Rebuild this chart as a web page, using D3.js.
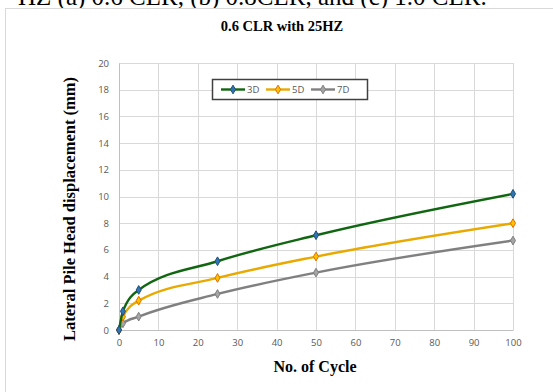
<!DOCTYPE html>
<html>
<head>
<meta charset="utf-8">
<script src="https://cdn.jsdelivr.net/npm/d3@7"></script>
<style>
  body { margin: 0; background: #fff; }
  svg { display: block; }
</style>
</head>
<body>
<script>
// values
const cycles = [0, 1, 5, 25, 50, 100];
const d3D = [0, 1.4, 3.0, 5.15, 7.1, 10.2];
const d5D = [0, 1.0, 2.2, 3.9, 5.5, 8.0];
const d7D = [0, 0.5, 1.0, 2.7, 4.3, 6.7];
const seriesNames = ["3D", "5D", "7D"];
const xTicks = [0, 10, 20, 30, 40, 50, 60, 70, 80, 90, 100];
const yTicks = [0, 2, 4, 6, 8, 10, 12, 14, 16, 18, 20];

const W = 553, H = 392;
const svg = d3.select("body").append("svg").attr("width", W).attr("height", H);

// caption of the page above the chart, cut off at the top like in the reference
svg.append("text")
  .attr("x", 18).attr("y", 5)
  .attr("font-family", "Liberation Serif, Times New Roman, serif")
  .attr("font-size", 25)
  .attr("fill", "#000")
  .text("HZ (a) 0.6 CLR, (b) 0.8CLR, and (c) 1.0 CLR.");

// chart frame
svg.append("rect")
  .attr("x", 5.5).attr("y", 8.5).attr("width", 560).attr("height", 400)
  .attr("fill", "#fff").attr("stroke", "#d9d9d9");

let x = d3.scaleLinear().domain([0, 100]).range([119, 513]);
let y = d3.scaleLinear().domain([0, 20]).range([330, 63]);

// grid
svg.selectAll(".vgrid").data(xTicks).enter().append("line")
  .attr("x1", d => Math.round(x(d)) + 0.5).attr("x2", d => Math.round(x(d)) + 0.5)
  .attr("y1", y(20)).attr("y2", y(0))
  .attr("stroke", "#d9d9d9").attr("stroke-width", 1);
svg.selectAll(".hgrid").data(yTicks).enter().append("line")
  .attr("x1", x(0)).attr("x2", x(100))
  .attr("y1", d => Math.round(y(d)) + 0.5).attr("y2", d => Math.round(y(d)) + 0.5)
  .attr("stroke", "#d9d9d9").attr("stroke-width", 1);

// axes
let xAxis = svg.append("g").attr("transform", "translate(0,330)")
  .call(d3.axisBottom(x).tickValues(xTicks).tickSize(0).tickPadding(9));
let yAxis = svg.append("g").attr("transform", "translate(119,0)")
  .call(d3.axisLeft(y).tickValues(yTicks).tickSize(0).tickPadding(10));
[xAxis, yAxis].forEach(g => {
  g.select(".domain").attr("stroke", "#bfbfbf");
  g.selectAll("text").attr("font-family", "Open Sans, Liberation Sans, sans-serif")
    .attr("font-size", 9.5).attr("fill", "#595959");
});

// series
const series = [
  { name: seriesNames[0], vals: d3D, color: "#116611", mark: "#1f4e79", mfill: "#2e75b6" },
  { name: seriesNames[1], vals: d5D, color: "#e8a900", mark: "#e07000", mfill: "#ffc000" },
  { name: seriesNames[2], vals: d7D, color: "#808080", mark: "#7f7f7f", mfill: "#a5a5a5" }
];

const line = d3.line()
  .x(d => x(d[0])).y(d => y(d[1]))
  .curve(d3.curveMonotoneX);
const diamond = d3.symbol().type(d3.symbolDiamond).size(22);

series.slice().reverse().forEach(s => {
  const pts = cycles.map((c, i) => [c, s.vals[i]]);
  svg.append("path").datum(pts)
    .attr("d", line).attr("fill", "none")
    .attr("stroke", s.color).attr("stroke-width", 2.4);
  svg.selectAll(null).data(pts).enter().append("path")
    .attr("d", diamond)
    .attr("transform", d => "translate(" + x(d[0]) + "," + y(d[1]) + ")")
    .attr("fill", s.mfill).attr("stroke", s.mark).attr("stroke-width", 1);
});

// legend
const lg = svg.append("g");
lg.append("rect").attr("x", 212.5).attr("y", 79.5).attr("width", 155).attr("height", 20)
  .attr("fill", "#fff").attr("stroke", "#404040").attr("stroke-width", 1.5);
const lx = [221, 266, 311];
series.forEach((s, i) => {
  lg.append("line").attr("x1", lx[i]).attr("x2", lx[i] + 24)
    .attr("y1", 89.5).attr("y2", 89.5)
    .attr("stroke", s.color).attr("stroke-width", 2.4);
  lg.append("path").attr("d", diamond)
    .attr("transform", "translate(" + (lx[i] + 12) + ",89.5)")
    .attr("fill", s.mfill).attr("stroke", s.mark);
  lg.append("text").attr("x", lx[i] + 26).attr("y", 93)
    .attr("font-family", "Open Sans, Liberation Sans, sans-serif")
    .attr("font-size", 9.5).attr("fill", "#595959").text(s.name);
});

// titles
svg.append("text").attr("x", 282).attr("y", 31).attr("text-anchor", "middle")
  .attr("font-family", "Liberation Serif, Times New Roman, serif")
  .attr("font-weight", "bold").attr("font-size", 14.5).text("0.6 CLR with 25HZ");
svg.append("text").attr("x", 315).attr("y", 372).attr("text-anchor", "middle")
  .attr("font-family", "Liberation Serif, Times New Roman, serif")
  .attr("font-weight", "bold").attr("font-size", 16).text("No. of Cycle");
svg.append("text")
  .attr("transform", "translate(75,209) rotate(-90)").attr("text-anchor", "middle")
  .attr("font-family", "Liberation Serif, Times New Roman, serif")
  .attr("font-weight", "bold").attr("font-size", 16.5)
  .text("Lateral Pile Head displacement (mm)");
</script>
</body>
</html>
